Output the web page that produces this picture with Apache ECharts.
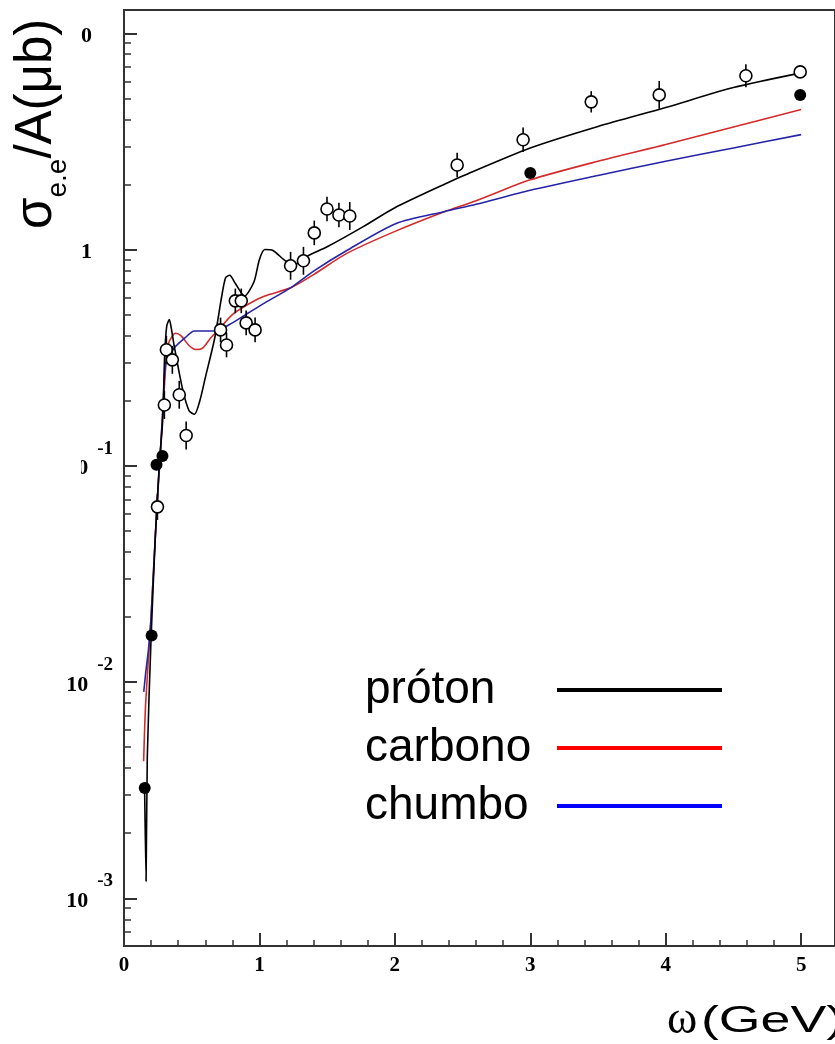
<!DOCTYPE html>
<html>
<head>
<meta charset="utf-8">
<script src="https://cdn.jsdelivr.net/npm/echarts@6/dist/echarts.min.js"></script>
<style>
  html, body { margin: 0; padding: 0; background: #fff; }
  #chart { width: 835px; height: 1044px; }
</style>
</head>
<body>
<div id="chart"></div>
<script>
// curves (omega in GeV, sigma/A in microbarn)
const protonX = [0.152, 0.163, 0.172, 0.20, 0.23, 0.26, 0.285, 0.30, 0.315, 0.335, 0.35, 0.37, 0.43, 0.48, 0.52, 0.56, 0.60, 0.67, 0.72, 0.75, 0.78, 0.82, 0.89, 0.96, 1.00, 1.04, 1.10, 1.20, 1.28, 1.35, 1.50, 1.77, 2.00, 2.37, 2.50, 3.00, 3.50, 4.00, 4.50, 5.00];
const protonY = [0.0033, 0.0012, 0.0045, 0.016, 0.045, 0.10, 0.16, 0.32, 0.44, 0.475, 0.43, 0.36, 0.23, 0.18, 0.173, 0.20, 0.255, 0.39, 0.60, 0.74, 0.76, 0.70, 0.61, 0.71, 0.90, 1.00, 0.99, 0.88, 0.86, 0.93, 1.03, 1.28, 1.56, 2.01, 2.19, 2.95, 3.71, 4.54, 5.61, 6.56];

const carbonX = [0.145, 0.16, 0.20, 0.24, 0.27, 0.29, 0.31, 0.33, 0.38, 0.42, 0.48, 0.53, 0.58, 0.64, 0.70, 0.80, 0.92, 1.04, 1.23, 1.40, 1.645, 2.01, 2.37, 2.60, 3.00, 3.50, 4.00, 4.50, 5.00];
const carbonY = [0.0043, 0.008, 0.02, 0.06, 0.12, 0.19, 0.30, 0.37, 0.41, 0.40, 0.36, 0.345, 0.35, 0.39, 0.427, 0.50, 0.56, 0.61, 0.665, 0.766, 0.96, 1.22, 1.50, 1.68, 2.10, 2.56, 3.06, 3.69, 4.44];

const leadX = [0.146, 0.16, 0.18, 0.20, 0.24, 0.27, 0.29, 0.31, 0.37, 0.45, 0.52, 0.67, 0.80, 0.92, 1.04, 1.23, 1.40, 1.645, 2.01, 2.37, 2.60, 3.00, 3.50, 4.00, 4.50, 5.00];
const leadY = [0.009, 0.011, 0.014, 0.02, 0.06, 0.12, 0.20, 0.30, 0.35, 0.39, 0.42, 0.42, 0.458, 0.51, 0.567, 0.665, 0.795, 0.99, 1.32, 1.50, 1.62, 1.88, 2.20, 2.56, 2.95, 3.40];

// measured points
const openX = [0.247, 0.298, 0.313, 0.357, 0.408, 0.459, 0.713, 0.757, 0.822, 0.866, 0.902, 0.968, 1.23, 1.325, 1.405, 1.499, 1.587, 1.667, 2.46, 2.947, 3.45, 3.952, 4.592, 4.993];
const openY = [0.0646, 0.191, 0.344, 0.309, 0.213, 0.138, 0.425, 0.362, 0.579, 0.579, 0.458, 0.425, 0.841, 0.887, 1.194, 1.54, 1.445, 1.43, 2.46, 3.22, 4.82, 5.19, 6.36, 6.63];
const openErr = [0.15, 0.16, 0.16, 0.16, 0.16, 0.16, 0.14, 0.14, 0.14, 0.14, 0.14, 0.14, 0.16, 0.16, 0.14, 0.14, 0.14, 0.16, 0.14, 0.14, 0.12, 0.16, 0.13, 0];

const fullX = [0.153, 0.204, 0.24, 0.284, 3.0, 4.993];
const fullY = [0.00324, 0.0164, 0.101, 0.111, 2.26, 5.19];

const seriesNames = ['próton', 'carbono', 'chumbo'];
const lineColors = ['#000000', '#d42a2a', '#2424a8'];
const legendColors = ['#000000', '#ff0000', '#0000ff'];

const yMajor = [0.001, 0.01, 0.1, 1, 10];
const yMinor = [];
[0.0001, 0.001, 0.01, 0.1, 1].forEach(d => {
  for (let k = 2; k <= 9; k++) yMinor.push(+(d * k).toPrecision(3));
});
const xMajor = [0, 1, 2, 3, 4, 5];
const xMinor = [];
for (let i = 0; i < 5; i++) for (let k = 1; k < 5; k++) xMinor.push(+(i + k * 0.2).toFixed(1));

const xMax = 5.25;
const yMin = Math.pow(10, -3.2206);
const yMax = Math.pow(10, 1.1077);

const zip = (xs, ys) => xs.map((x, i) => [x, ys[i]]);

const axisColor = '#333';
const tickFont = { fontFamily: 'Liberation Serif', fontWeight: 'bold', fontSize: 21, color: '#000' };

const chart = echarts.init(document.getElementById('chart'));

const lineSeries = (i, xs, ys, z) => ({
  name: seriesNames[i], type: 'line', data: zip(xs, ys),
  smooth: 0.25, symbol: 'none', z: z,
  lineStyle: { color: lineColors[i], width: 1.6 },
});

const option = {
  animation: false,
  backgroundColor: '#fff',
  grid: { left: 124, top: 10, right: -10.35, bottom: 98, show: true, borderColor: axisColor, borderWidth: 2 },
  xAxis: [
    {
      type: 'value', min: 0, max: xMax,
      axisLine: { lineStyle: { color: axisColor, width: 2 } },
      axisTick: { inside: true, length: 13, customValues: xMajor, lineStyle: { color: axisColor, width: 2 } },
      axisLabel: Object.assign({ customValues: xMajor, margin: 9 }, tickFont),
      splitLine: { show: false },
    },
    {
      type: 'value', min: 0, max: xMax, position: 'bottom',
      axisLine: { show: false },
      axisTick: { inside: true, length: 6, customValues: xMinor, lineStyle: { color: axisColor, width: 1.5 } },
      axisLabel: { show: false },
      splitLine: { show: false },
    },
  ],
  yAxis: [
    {
      type: 'log', logBase: 10, min: yMin, max: yMax,
      axisLine: { show: true, lineStyle: { color: axisColor, width: 2 } },
      axisTick: { show: true, inside: true, length: 13, customValues: yMajor, lineStyle: { color: axisColor, width: 2 } },
      axisLabel: {
        customValues: yMajor,
        margin: 11,
        formatter: v => {
          const e = Math.round(Math.log10(v));
          if (e === 0) return '{n|1}';
          if (e === 1) return '{n|10}';
          return '{b|10}{s|' + e + '}';
        },
        rich: {
          n: Object.assign({ padding: [6, 21, 0, 0] }, tickFont, { fontSize: 22 }),
          b: Object.assign({ padding: [6, 0, 0, 0] }, tickFont, { fontSize: 22 }),
          s: Object.assign({}, tickFont, { fontSize: 19, padding: [0, 0, 34, 9] }),
        },
      },
      splitLine: { show: false },
    },
    {
      type: 'log', logBase: 10, min: yMin, max: yMax, position: 'left',
      axisLine: { show: false },
      axisTick: { show: true, inside: true, length: 7, customValues: yMinor, lineStyle: { color: axisColor, width: 1.5 } },
      axisLabel: { show: false },
      splitLine: { show: false },
    },
  ],
  series: [
    lineSeries(1, carbonX, carbonY, 2),
    lineSeries(2, leadX, leadY, 3),
    lineSeries(0, protonX, protonY, 4),
    {
      type: 'custom', z: 5,
      data: openX.map((x, i) => [x, openY[i], openY[i] / (1 + openErr[i]), openY[i] * (1 + openErr[i])]),
      renderItem: (params, api) => {
        const c = api.coord([api.value(0), api.value(1)]);
        const lo = api.coord([api.value(0), api.value(2)]);
        const hi = api.coord([api.value(0), api.value(3)]);
        return {
          type: 'group',
          children: [
            { type: 'line', shape: { x1: c[0], y1: lo[1], x2: c[0], y2: hi[1] }, style: { stroke: '#000', lineWidth: 1.6 } },
            { type: 'circle', shape: { cx: c[0], cy: c[1], r: 6 }, style: { fill: '#fff', stroke: '#000', lineWidth: 1.6 } },
          ],
        };
      },
    },
    {
      type: 'scatter', z: 6, data: zip(fullX, fullY),
      symbol: 'circle', symbolSize: 12,
      itemStyle: { color: '#000', opacity: 1 },
    },
  ],
  graphic: [
    // parts of the tick labels hidden behind the axis title
    { type: 'rect', z: 50, shape: { x: 0, y: 20, width: 81, height: 26 }, style: { fill: '#fff' } },
    { type: 'rect', z: 50, shape: { x: 0, y: 454, width: 81, height: 26 }, style: { fill: '#fff' } },
    {
      type: 'text', z: 60, x: 37, y: 229, rotation: Math.PI / 2,
      style: {
        text: '{a|σ}{sub|e.e}{a|/A(μb)}',
        align: 'left', verticalAlign: 'middle',
        rich: {
          a: { fontFamily: 'Liberation Sans', fontSize: 51, lineHeight: 51, fill: '#000' },
          sub: { fontFamily: 'Liberation Sans', fontSize: 28, lineHeight: 28, padding: [42, 0, 0, 0], fill: '#000' },
        },
      },
    },
    {
      type: 'text', z: 60, x: 667, y: 1021,
      style: { text: 'ω', fontFamily: 'Liberation Serif', fontSize: 46, fill: '#000', verticalAlign: 'middle' },
    },
    {
      type: 'text', z: 60, x: 701, y: 1022, scaleX: 1.45,
      style: { text: '(GeV)', fontFamily: 'Liberation Sans', fontSize: 37, fill: '#000', verticalAlign: 'middle' },
    },
  ].concat(seriesNames.flatMap((name, i) => [
    {
      type: 'text', z: 60, x: 365, y: 690 + i * 58,
      style: { text: name, fontFamily: 'Liberation Sans', fontSize: 46, fill: '#000', verticalAlign: 'middle' },
    },
    {
      type: 'line', z: 60, shape: { x1: 557, y1: 690 + i * 58, x2: 722, y2: 690 + i * 58 },
      style: { stroke: legendColors[i], lineWidth: 4 },
    },
  ])),
};

chart.setOption(option);
</script>
</body>
</html>
